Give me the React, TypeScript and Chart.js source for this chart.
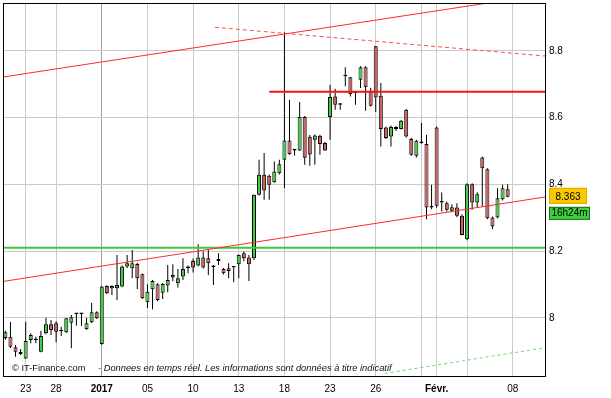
import React, { useEffect, useRef } from 'react';
import { Chart, registerables } from 'chart.js';

Chart.register(...registerables);

const FONT = "'Liberation Sans', Arial, Helvetica, sans-serif";

// candle index of the first candle (index 0 = 23 Dec)
const firstIndex = -4;

const opens = [
  7.940, 7.944, 7.912, 7.898, 7.879, 7.934, 7.935, 7.899, 7.954, 7.981,
  7.984, 7.962, 7.957, 7.986, 8.012, 8.012, 7.967, 7.987, 8.017, 7.922,
  8.096, 8.089, 8.089, 8.094, 8.154, 8.149, 8.162, 8.131, 8.047, 8.086,
  8.101, 8.076, 8.097, 8.129, 8.104, 8.124, 8.150, 8.171, 8.157, 8.181,
  8.179, 8.154, 8.177, 8.147, 8.149, 8.151, 8.161, 8.194, 8.181, 8.179,
  8.369, 8.429, 8.426, 8.407, 8.434, 8.474, 8.532, 8.502, 8.502, 8.602,
  8.543, 8.534, 8.546, 8.524, 8.602, 8.664, 8.639, 8.724, 8.721, 8.674,
  8.714, 8.751, 8.679, 8.814, 8.666, 8.571, 8.544, 8.572, 8.566, 8.624,
  8.536, 8.486, 8.524, 8.521, 8.331, 8.571, 8.346, 8.344, 8.321, 8.331,
  8.306, 8.236, 8.401, 8.346, 8.481, 8.446, 8.301, 8.301, 8.356, 8.386,
];
const highs = [
  7.962, 7.988, 7.919, 7.907, 7.989, 7.954, 7.944, 7.962, 8.001, 7.994,
  7.990, 7.974, 8.000, 8.009, 8.013, 8.013, 8.001, 8.046, 8.020, 8.096,
  8.098, 8.098, 8.189, 8.157, 8.189, 8.204, 8.165, 8.133, 8.101, 8.114,
  8.104, 8.105, 8.159, 8.161, 8.147, 8.179, 8.157, 8.178, 8.221, 8.199,
  8.204, 8.159, 8.194, 8.150, 8.164, 8.152, 8.190, 8.199, 8.189, 8.370,
  8.474, 8.494, 8.430, 8.469, 8.474, 8.856, 8.654, 8.507, 8.647, 8.605,
  8.548, 8.550, 8.549, 8.527, 8.699, 8.687, 8.644, 8.751, 8.722, 8.674,
  8.754, 8.754, 8.690, 8.815, 8.704, 8.574, 8.577, 8.575, 8.593, 8.626,
  8.540, 8.534, 8.584, 8.549, 8.399, 8.574, 8.376, 8.349, 8.341, 8.344,
  8.311, 8.404, 8.404, 8.377, 8.484, 8.449, 8.304, 8.389, 8.399, 8.401,
];
const lows = [
  7.935, 7.910, 7.884, 7.889, 7.877, 7.924, 7.924, 7.897, 7.951, 7.949,
  7.927, 7.946, 7.955, 7.909, 7.977, 7.977, 7.965, 7.985, 7.997, 7.920,
  8.072, 8.069, 8.054, 8.092, 8.150, 8.119, 8.087, 8.057, 8.030, 8.026,
  8.050, 8.057, 8.077, 8.110, 8.091, 8.114, 8.134, 8.136, 8.155, 8.148,
  8.129, 8.099, 8.159, 8.130, 8.119, 8.107, 8.119, 8.170, 8.111, 8.174,
  8.367, 8.354, 8.354, 8.405, 8.430, 8.389, 8.489, 8.487, 8.500, 8.459,
  8.456, 8.459, 8.489, 8.500, 8.534, 8.624, 8.624, 8.694, 8.664, 8.639,
  8.689, 8.621, 8.634, 8.617, 8.514, 8.536, 8.514, 8.560, 8.565, 8.541,
  8.486, 8.481, 8.522, 8.296, 8.326, 8.330, 8.319, 8.319, 8.317, 8.302,
  8.248, 8.233, 8.324, 8.330, 8.334, 8.296, 8.266, 8.299, 8.352, 8.362,
];
const closes = [
  7.957, 7.914, 7.899, 7.892, 7.931, 7.949, 7.934, 7.946, 7.981, 7.964,
  7.959, 7.960, 7.999, 8.002, 8.012, 8.012, 7.984, 8.017, 7.999, 8.094,
  8.074, 8.096, 8.099, 8.154, 8.164, 8.164, 8.119, 8.059, 8.079, 8.111,
  8.054, 8.102, 8.114, 8.121, 8.119, 8.147, 8.152, 8.151, 8.181, 8.151,
  8.164, 8.153, 8.171, 8.134, 8.141, 8.151, 8.189, 8.179, 8.161, 8.369,
  8.429, 8.382, 8.399, 8.439, 8.461, 8.532, 8.491, 8.502, 8.602, 8.480,
  8.490, 8.547, 8.521, 8.502, 8.662, 8.639, 8.639, 8.724, 8.671, 8.674,
  8.751, 8.691, 8.636, 8.661, 8.566, 8.539, 8.572, 8.566, 8.591, 8.544,
  8.489, 8.531, 8.524, 8.331, 8.331, 8.336, 8.346, 8.324, 8.332, 8.306,
  8.249, 8.401, 8.346, 8.371, 8.449, 8.299, 8.274, 8.359, 8.389, 8.363,
];

const tickIndices = [0, 6, 15, 24, 33, 42, 51, 60, 69, 78, 81, 87, 96];
const tickLabels = ['23', '28', '2017', '05', '10', '13', '18', '23', '26', '', 'Févr.', '', '08'];
const boldLabels = ['2017', 'Févr.'];
const yTicks = [8, 8.2, 8.4, 8.6, 8.8];

const xMin = -4.47;
const xMax = 102.36;
const yMin = 7.8262;
const yMax = 8.9438;

// drawn lines (candle index, price)
const upperChannel = [{ x: -4.47, y: 8.722 }, { x: 102.36, y: 8.970 }];
const upperDashed = [{ x: 37.3, y: 8.871 }, { x: 102.36, y: 8.785 }];
const resistance = [{ x: 48, y: 8.678 }, { x: 102.36, y: 8.678 }];
const lowerChannel = [{ x: -4.47, y: 8.1094 }, { x: 102.36, y: 8.3626 }];
const support = [{ x: -4.47, y: 8.2106 }, { x: 102.36, y: 8.2106 }];
const lowerDashed = [{ x: 70.8, y: 7.834 }, { x: 102.36, y: 7.911 }];

const timeLeft = '16h24m';
const footerSource = '© IT-Finance.com';
const footerNote = '- Donnees en temps réel. Les informations sont données à titre indicatif';

const UP = '#3fcf3f';
const DOWN = '#d06060';

const noPad = (s: any) => {
  s.paddingTop = 0;
  s.paddingBottom = 0;
  s.paddingLeft = 0;
  s.paddingRight = 0;
};

export default function App() {
  const ref = useRef<HTMLCanvasElement>(null);

  useEffect(() => {
    document.body.style.margin = '0';
    const canvas = ref.current;
    if (!canvas) return;

    const xs = opens.map((_, i) => firstIndex + i);
    const bodies = xs.map((x, i) => ({ x, y: [opens[i], closes[i]] }));
    const wicks = xs.map((x, i) => ({ x, y: [lows[i], highs[i]] }));
    const bodyColors = opens.map((o, i) => (closes[i] > o ? UP : closes[i] < o ? DOWN : '#000'));

    const lineDs = (data: any, color: string, width: number, dash: number[] = []) => ({
      type: 'line',
      data,
      borderColor: color,
      borderWidth: width,
      borderDash: dash,
      pointRadius: 0,
      pointHoverRadius: 0,
      fill: false,
      tension: 0,
      order: 0,
      clip: 0,
    });

    const overlay = {
      id: 'overlay',
      afterDraw(chart: any) {
        const { ctx, chartArea: a, scales } = chart;
        ctx.save();
        // frame
        ctx.strokeStyle = '#000';
        ctx.lineWidth = 1;
        ctx.strokeRect(Math.round(a.left) + 0.5, Math.round(a.top) + 0.5,
          Math.round(a.right - a.left), Math.round(a.bottom - a.top));
        // footer
        ctx.fillStyle = '#111';
        ctx.textBaseline = 'alphabetic';
        ctx.textAlign = 'left';
        ctx.font = `9.3px ${FONT}`;
        ctx.fillText(footerSource, a.left + 9, a.bottom - 5);
        ctx.font = `italic 9.3px ${FONT}`;
        ctx.fillText(footerNote, a.left + 95, a.bottom - 5);
        // last price label
        const last = closes[closes.length - 1];
        const py = scales.y.getPixelForValue(last);
        const bx = a.right + 4;
        ctx.fillStyle = '#f8c800';
        ctx.fillRect(bx, py - 9, 38, 16);
        ctx.strokeStyle = '#e0a800';
        ctx.strokeRect(bx + 0.5, py - 8.5, 37, 15);
        ctx.fillStyle = '#000';
        ctx.font = `10px ${FONT}`;
        ctx.textAlign = 'center';
        ctx.textBaseline = 'middle';
        ctx.fillText(last.toFixed(3), bx + 19, py);
        // time box
        ctx.fillStyle = '#3fd03f';
        ctx.fillRect(bx, py + 10, 41, 13);
        ctx.strokeStyle = '#1c6e1c';
        ctx.strokeRect(bx + 0.5, py + 10.5, 40, 12);
        ctx.fillStyle = '#000';
        ctx.fillText(timeLeft, bx + 20.5, py + 16.5);
        ctx.restore();
      },
    };

    const labelFor = (v: number) => {
      const k = tickIndices.indexOf(v);
      return k >= 0 ? tickLabels[k] : '';
    };

    const chart = new Chart(canvas, {
      type: 'bar',
      data: {
        datasets: [
          lineDs(upperChannel, '#ff2a2a', 1),
          lineDs(upperDashed, '#ff4a4a', 1, [4, 3]),
          lineDs(resistance, '#ff1010', 2),
          lineDs(lowerChannel, '#ff2a2a', 1),
          lineDs(support, '#3cc83c', 2),
          lineDs(lowerDashed, '#6ad86a', 1, [3, 3]),
          {
            type: 'bar',
            data: bodies,
            backgroundColor: bodyColors,
            borderColor: '#000',
            borderWidth: 1,
            borderSkipped: false,
            barThickness: 4,
            grouped: false,
            minBarLength: 1.5,
            inflateAmount: 0,
            order: 1,
          },
          {
            type: 'bar',
            data: wicks,
            backgroundColor: '#000',
            borderWidth: 0,
            barThickness: 1,
            grouped: false,
            inflateAmount: 0,
            order: 2,
          },
        ] as any,
      },
      options: {
        responsive: false,
        animation: false,
        devicePixelRatio: 1,
        events: [],
        layout: { padding: { left: 3, top: 3, right: 0, bottom: 0 } },
        plugins: {
          legend: { display: false },
          tooltip: { enabled: false },
        },
        scales: {
          x: {
            type: 'linear',
            min: xMin,
            max: xMax,
            offset: false,
            afterBuildTicks: (s: any) => { s.ticks = tickIndices.map((v) => ({ value: v })); },
            afterFit: (s: any) => { s.height = 22; noPad(s); },
            grid: {
              offset: false,
              drawTicks: false,
              color: (c: any) => (c.tick && c.tick.value === 15 ? '#a0a0a0' : '#cbcbcb'),
              lineWidth: 1,
            },
            border: { display: false },
            ticks: {
              autoSkip: false,
              maxRotation: 0,
              minRotation: 0,
              padding: 7,
              color: '#000',
              font: (c: any) => ({
                family: FONT,
                size: 10,
                weight: c.tick && boldLabels.includes(labelFor(c.tick.value)) ? 'bold' : 'normal',
              }),
              callback: (v: any) => labelFor(Number(v)),
            },
          },
          y: {
            type: 'linear',
            position: 'right',
            min: yMin,
            max: yMax,
            beginAtZero: false,
            afterBuildTicks: (s: any) => { s.ticks = yTicks.map((v) => ({ value: v })); },
            afterFit: (s: any) => { s.width = 66; noPad(s); },
            grid: { drawTicks: false, color: '#cbcbcb', lineWidth: 1 },
            border: { display: false },
            ticks: {
              padding: 4,
              color: '#000',
              font: { family: FONT, size: 10 },
              callback: (v: any) => (Number(v) === 8 ? '8' : Number(v).toFixed(1)),
            },
          },
        },
      } as any,
      plugins: [overlay],
    });

    return () => chart.destroy();
  }, []);

  return (
    <div style={{ position: 'absolute', left: 0, top: 0, width: 611, height: 398 }}>
      <canvas ref={ref} width={611} height={398} style={{ display: 'block', width: 611, height: 398 }} />
    </div>
  );
}
